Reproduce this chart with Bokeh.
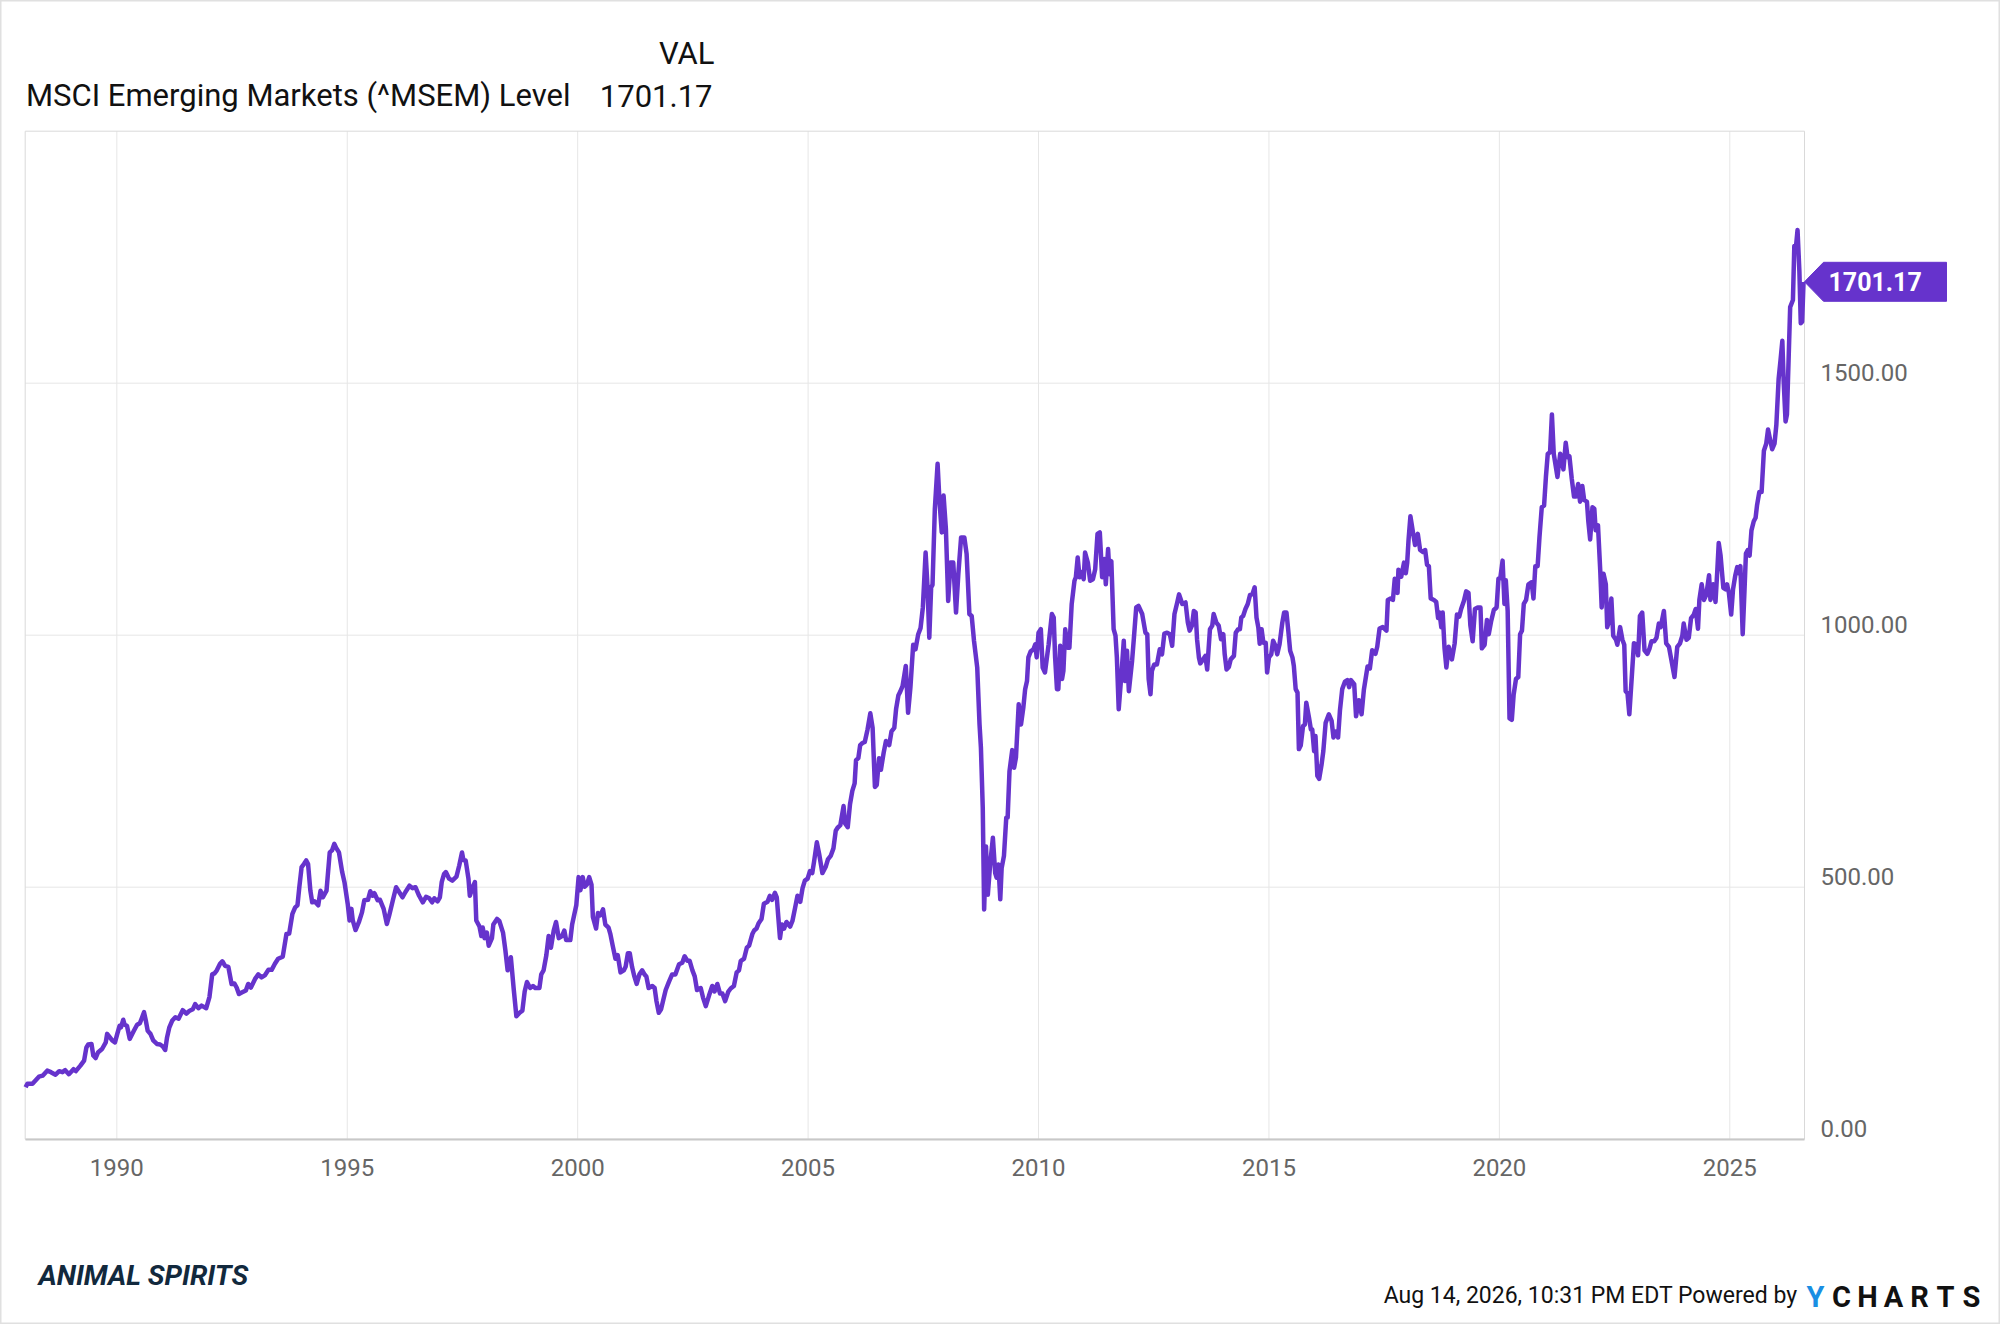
from bokeh.plotting import figure
from bokeh.models import (Range1d, FixedTicker, NumeralTickFormatter, LinearAxis, Label)
from bokeh.embed import file_html
from bokeh.resources import INLINE

# ---------------- data (decimal year, index level) ----------------
YEARS_A = [1988.02,1988.06,1988.17,1988.24,1988.31,1988.39,1988.49,1988.57,1988.67,1988.75,
           1988.82,1988.88,1988.96,1989.06,1989.11,1989.21,1989.29,1989.34,1989.38,1989.45,
           1989.49,1989.54,1989.59,1989.68,1989.76,1989.79,1989.85,1989.90,1989.96,1990.01,
           1990.06,1990.09,1990.14,1990.17,1990.22,1990.28,1990.37,1990.44,1990.50,1990.55,
           1990.59,1990.63,1990.67,1990.73,1990.79,1990.87,1990.94,1991.00,1991.05,1991.09,
           1991.14,1991.20,1991.27,1991.34,1991.43,1991.51,1991.58,1991.65,1991.70,1991.77,
           1991.84,1991.94,1992.01,1992.07,1992.12,1992.17,1992.24,1992.29,1992.35,1992.42,
           1992.49,1992.55,1992.60,1992.65,1992.71,1992.80,1992.85,1992.91,1993.00,1993.07,
           1993.14,1993.21,1993.29,1993.36,1993.43,1993.50,1993.60,1993.68,1993.74,1993.81,
           1993.87,1993.92,1993.96,1994.01,1994.06,1994.11,1994.15,1994.20,1994.24,1994.29,
           1994.37,1994.42,1994.47,1994.55,1994.62,1994.67,1994.72,1994.76,1994.82,1994.89,
           1994.94,1995.01,1995.05,1995.09,1995.12,1995.18,1995.25,1995.32,1995.37,1995.45,
           1995.50,1995.55,1995.59,1995.66,1995.71,1995.79,1995.86,1995.91,1995.99,1996.06,
           1996.13,1996.20,1996.26,1996.35,1996.42,1996.48,1996.56,1996.64,1996.71,1996.78,
           1996.84,1996.89,1996.96,1997.01,1997.05,1997.10,1997.14,1997.21,1997.28,1997.37,
           1997.43,1997.49,1997.52,1997.57,1997.63,1997.66,1997.72,1997.77,1997.80]
VALUES_A = [103,110,110,117,124,126,136,133,128,135,
            133,137,129,139,135,146,156,182,188,189,
            166,161,172,179,192,209,202,196,192,209,
            225,222,237,227,225,199,215,227,230,242,
            252,235,215,209,196,189,188,184,177,202,
            222,235,242,239,256,249,255,258,268,260,
            265,260,282,327,329,335,348,353,344,342,
            308,309,301,288,291,295,308,301,318,327,
            321,325,336,336,348,358,362,407,408,447,
            460,464,500,540,546,553,546,493,470,472,
            464,493,480,493,569,573,586,578,569,530,
            510,467,434,457,434,415,430,450,474,475,
            492,483,488,474,475,457,427,444,474,500,
            490,480,490,503,498,500,483,470,481,478,
            470,478,472,480,510,526,530,517,513,521,
            543,569,554,553,517,483,500,510,434]

YEARS_B = [1997.87,1997.91,1997.94,1997.98,1998.03,1998.07,1998.14,1998.17,1998.25,1998.30,
           1998.38,1998.43,1998.48,1998.55,1998.61,1998.67,1998.74,1998.80,1998.85,1998.90,
           1998.97,1999.03,1999.08,1999.17,1999.21,1999.26,1999.32,1999.37,1999.42,1999.48,
           1999.53,1999.59,1999.66,1999.71,1999.75,1999.84,1999.88,1999.97,2000.02,2000.06,
           2000.11,2000.15,2000.20,2000.25,2000.30,2000.33,2000.40,2000.44,2000.49,2000.55,
           2000.60,2000.67,2000.71,2000.76,2000.82,2000.87,2000.93,2001.00,2001.04,2001.09,
           2001.13,2001.18,2001.23,2001.28,2001.34,2001.40,2001.45,2001.49,2001.54,2001.62,
           2001.67,2001.71,2001.76,2001.81,2001.86,2001.91,2001.98,2002.05,2002.12,2002.20,
           2002.27,2002.32,2002.38,2002.43,2002.49,2002.54,2002.59,2002.67,2002.72,2002.78,
           2002.85,2002.92,2002.97,2003.03,2003.09,2003.14,2003.20,2003.27,2003.32,2003.39,
           2003.45,2003.50,2003.54,2003.61,2003.67,2003.72,2003.79,2003.83,2003.88,2003.93,
           2003.99,2004.04,2004.12,2004.17,2004.22,2004.28,2004.32,2004.37,2004.39,2004.43,
           2004.48,2004.53,2004.61,2004.66,2004.72,2004.77,2004.83,2004.88,2004.93,2004.99,
           2005.04,2005.09,2005.13,2005.19,2005.24,2005.31,2005.38,2005.43,2005.49,2005.55,
           2005.60,2005.64,2005.70,2005.77,2005.80,2005.86,2005.91,2005.96,2006.01,2006.04,
           2006.09,2006.13,2006.18,2006.23,2006.29,2006.35,2006.40,2006.45,2006.49,2006.54,
           2006.58,2006.64,2006.69,2006.76,2006.81,2006.87,2006.91,2006.96,2007.00]
VALUES_B = [422,403,420,399,410,384,399,426,437,433,
            410,376,335,361,300,244,251,255,293,312,
            300,304,300,300,327,335,365,403,380,414,
            431,399,403,414,395,395,426,464,520,494,
            520,501,505,520,505,441,418,449,444,456,
            426,420,407,384,358,365,331,335,342,369,
            369,342,323,308,327,335,327,323,300,304,
            300,274,251,258,277,296,312,327,327,347,
            350,363,354,354,335,323,296,300,281,264,
            285,304,293,308,289,289,274,293,299,304,
            331,335,354,358,380,384,407,414,418,429,
            437,467,471,483,475,489,480,422,399,426,
            418,431,422,433,460,483,471,498,513,517,
            532,528,551,589,566,528,540,555,562,577,
            612,618,623,661,627,619,665,691,706,752,
            756,782,786,788,813,845,816,699,703,756,
            733,767,790,782,809,816,854,881,888]

YEARS_C = [2007.05,2007.12,2007.17,2007.22,2007.28,2007.33,2007.39,2007.44,2007.49,2007.55,
           2007.59,2007.63,2007.67,2007.70,2007.75,2007.81,2007.85,2007.90,2007.94,2007.99,
           2008.04,2008.09,2008.15,2008.21,2008.26,2008.32,2008.39,2008.44,2008.50,2008.55,
           2008.60,2008.67,2008.72,2008.75,2008.79,2008.82,2008.86,2008.90,2008.95,2009.01,
           2009.06,2009.09,2009.13,2009.17,2009.20,2009.25,2009.30,2009.33,2009.37,2009.43,
           2009.47,2009.51,2009.57,2009.62,2009.67,2009.71,2009.75,2009.78,2009.83,2009.89,
           2009.93,2009.96,2010.00,2010.05,2010.09,2010.14,2010.22,2010.29,2010.33,2010.36,
           2010.40,2010.43,2010.47,2010.51,2010.54,2010.58,2010.63,2010.67,2010.72,2010.78,
           2010.81,2010.85,2010.89,2010.94,2010.98,2011.01,2011.07,2011.12,2011.18,2011.23,
           2011.28,2011.33,2011.38,2011.43,2011.46,2011.51,2011.54,2011.58,2011.63,2011.67,
           2011.70,2011.74,2011.81,2011.85,2011.88,2011.92,2011.96,2012.03,2012.07,2012.12,
           2012.17,2012.25,2012.32,2012.36,2012.39,2012.43,2012.46,2012.51,2012.57,2012.63,
           2012.68,2012.73,2012.79,2012.85,2012.90,2012.95,2013.01,2013.05,2013.12,2013.19,
           2013.24,2013.28,2013.33,2013.37,2013.41,2013.44,2013.48,2013.51,2013.57,2013.62,
           2013.66,2013.72,2013.77,2013.80,2013.86,2013.91,2013.96,2014.01,2014.04,2014.08,
           2014.13,2014.17,2014.24,2014.28,2014.33,2014.37,2014.40,2014.44,2014.49,2014.54,
           2014.59,2014.64,2014.69,2014.73,2014.77,2014.80,2014.84,2014.88,2014.93,2014.96,
           2015.00,2015.05,2015.09,2015.14,2015.18,2015.23,2015.29,2015.33,2015.38,2015.42,
           2015.46,2015.51,2015.54,2015.58,2015.62,2015.65,2015.69,2015.74,2015.78,2015.81,
           2015.87,2015.91,2015.94,2015.98,2016.01,2016.05,2016.09,2016.14,2016.18,2016.23,
           2016.30,2016.36,2016.40,2016.45,2016.50,2016.54,2016.59,2016.65,2016.70,2016.74,
           2016.78]
VALUES_C = [899,939,846,896,981,972,1002,1014,1055,1164,
            1098,995,1095,1100,1250,1340,1267,1204,1277,1211,
            1068,1144,1144,1045,1121,1194,1194,1161,1042,1038,
            989,936,823,777,658,456,581,485,545,598,
            528,519,545,476,538,562,638,638,730,772,
            737,757,863,823,856,893,909,956,968,972,
            982,956,1005,1012,936,926,982,1042,1035,956,
            893,893,979,913,929,1012,975,975,1062,1108,
            1115,1154,1115,1125,1111,1164,1144,1108,1111,1131,
            1201,1204,1115,1151,1101,1171,1121,1147,1012,999,
            956,853,936,989,909,969,889,949,995,1055,
            1058,1042,1005,1002,913,883,929,942,942,972,
            962,1003,1005,1002,979,1042,1065,1081,1062,1065,
            1025,1009,1019,1048,1045,992,956,944,952,959,
            932,1012,1019,1042,1025,1019,992,1002,962,932,
            937,952,959,1005,1012,1012,1035,1038,1052,1062,
            1080,1081,1095,1035,1015,983,1012,985,985,926,
            956,962,989,979,962,982,1025,1045,1045,1009,
            969,956,939,893,886,774,781,820,823,866,
            836,813,813,770,800,721,715,742,770,826,
            843,830,797,809,797,850,893,908,911,897,
            911]

YEARS_D = [2016.85,2016.89,2016.95,2017.01,2017.06,2017.14,2017.19,2017.24,2017.31,2017.35,
           2017.40,2017.47,2017.55,2017.58,2017.64,2017.69,2017.73,2017.79,2017.81,2017.87,
           2017.93,2017.97,2018.00,2018.03,2018.07,2018.12,2018.17,2018.23,2018.28,2018.34,
           2018.39,2018.43,2018.47,2018.51,2018.58,2018.63,2018.67,2018.70,2018.74,2018.77,
           2018.81,2018.85,2018.90,2018.97,2019.03,2019.08,2019.13,2019.17,2019.23,2019.28,
           2019.33,2019.37,2019.42,2019.47,2019.53,2019.59,2019.62,2019.68,2019.73,2019.77,
           2019.82,2019.88,2019.94,2019.98,2020.02,2020.07,2020.11,2020.14,2020.18,2020.22,
           2020.27,2020.31,2020.36,2020.41,2020.45,2020.49,2020.53,2020.58,2020.63,2020.70,
           2020.74,2020.78,2020.83,2020.87,2020.92,2020.97,2021.01,2021.05,2021.10,2021.14,
           2021.18,2021.21,2021.26,2021.32,2021.36,2021.39,2021.44,2021.48,2021.52,2021.57,
           2021.62,2021.66,2021.71,2021.75,2021.80,2021.84,2021.90,2021.93,2021.97,2022.02,
           2022.06,2022.09,2022.14,2022.19,2022.22,2022.26,2022.31,2022.34,2022.38,2022.43,
           2022.47,2022.53,2022.56,2022.62,2022.67,2022.71,2022.74,2022.78,2022.82,2022.86,
           2022.92,2022.98,2023.01,2023.05,2023.10,2023.15,2023.21,2023.26,2023.30,2023.36,
           2023.41,2023.46,2023.50,2023.57,2023.62,2023.68,2023.73,2023.80,2023.86,2023.92,
           2023.97,2024.00,2024.06,2024.11,2024.16,2024.22,2024.26,2024.31,2024.34,2024.39,
           2024.44,2024.49,2024.55,2024.58,2024.64,2024.69,2024.73,2024.76,2024.80,2024.86,
           2024.91,2024.94,2024.98,2025.03,2025.07,2025.12,2025.16,2025.19,2025.23,2025.28,
           2025.32,2025.35,2025.39,2025.43,2025.47,2025.52,2025.56,2025.59,2025.64,2025.69,
           2025.74,2025.79,2025.83,2025.87,2025.92,2025.97,2026.01,2026.06,2026.10,2026.14,
           2026.17,2026.21,2026.24,2026.28,2026.31,2026.37,2026.40,2026.44,2026.47,2026.51,
           2026.54,2026.57,2026.60]
VALUES_D = [903,839,871,843,892,938,934,970,963,977,
            1013,1016,1009,1070,1073,1070,1112,1084,1130,1116,
            1144,1123,1144,1190,1236,1207,1179,1201,1169,1165,
            1169,1140,1137,1073,1070,1066,1034,1045,1016,1045,
            974,936,977,952,984,1041,1037,1052,1068,1087,
            1084,1020,988,1052,1055,1055,974,981,1030,1002,
            1027,1050,1055,1112,1113,1148,1062,1109,1048,835,
            832,882,913,917,1002,1009,1062,1070,1101,1105,
            1073,1137,1137,1194,1254,1257,1314,1360,1363,1438,
            1360,1343,1314,1360,1350,1329,1382,1353,1355,1311,
            1275,1275,1300,1265,1296,1268,1265,1226,1190,1254,
            1251,1208,1218,1126,1055,1122,1101,1016,1027,1073,
            999,991,981,1016,991,981,889,885,843,899,
            984,981,960,1038,1045,970,963,974,988,988,
            995,1023,1016,1048,984,977,952,917,977,984,
            999,1023,991,995,1034,1041,1052,1013,1070,1101,
            1070,1080,1119,1070,1101,1066,1130,1183,1158,1094,
            1091,1101,1084,1041,1091,1119,1135,1123,1137,1002,
            1091,1162,1169,1158,1208,1226,1233,1257,1284,1284,
            1366,1380,1408,1390,1369,1380,1417,1509,1545,1584,
            1502,1424,1438,1559,1651,1665,1772,1775,1804,1722,
            1619,1622,1701.17]

YEARS = YEARS_A + YEARS_B + YEARS_C + YEARS_D
VALUES = VALUES_A + VALUES_B + VALUES_C + VALUES_D
n = min(len(YEARS), len(VALUES))
YEARS, VALUES = YEARS[:n], VALUES[:n]

X_TICKS = [1990, 1995, 2000, 2005, 2010, 2015, 2020, 2025]
Y_TICKS = [0, 500, 1000, 1500]
Y_GRID = [500, 1000, 1500]
SERIES_NAME = "MSCI Emerging Markets (^MSEM) Level"
COLUMN_HEAD = "VAL"
LAST_VALUE = 1701.17
LAST_TEXT = "1701.17"
BRAND = "ANIMAL SPIRITS"
STAMP = "Aug 14, 2026, 10:31 PM EDT Powered by"
LOGO_LETTERS = ["Y", "C", "H", "A", "R", "T", "S"]

# ---------------- layout (page pixels) ----------------
W, H = 2000, 1324
PL, PR, PT, PB = 24.7, 1804.0, 130.7, 1138.7       # plot-area box on the page
YEAR_L, YEAR_R = 1988.012, 2026.621                  # years at plot left / right
VAL_B, VAL_T = 0.0, 2000.0                           # values at plot bottom / top

KX = (YEAR_R - YEAR_L) / (PR - PL)
KY = (VAL_T - VAL_B) / (PB - PT)
XS, XE = YEAR_L - PL * KX, YEAR_L + (W - PL) * KX
YB, YT = VAL_B - (H - PB) * KY, VAL_B + PB * KY


def dx(px):
    return XS + px * KX


def dy(py):
    return YT - py * KY


PURPLE = "#6633cc"
FONT = "Roboto"
GRID = "#e6e6e6"

p = figure(width=W, height=H, x_range=Range1d(XS, XE), y_range=Range1d(YB, YT),
           output_backend="svg", toolbar_location=None,
           x_axis_location=None, y_axis_location=None,
           min_border=0, min_border_left=0, min_border_right=0,
           min_border_top=0, min_border_bottom=0)
p.background_fill_color = "white"
p.border_fill_color = "white"
p.outline_line_color = "#e0e0e0"
p.outline_line_width = 2
p.xgrid.visible = False
p.ygrid.visible = False

# grid lines inside the plot box
p.segment(x0=X_TICKS, y0=[VAL_B] * len(X_TICKS), x1=X_TICKS, y1=[VAL_T] * len(X_TICKS),
          line_color=GRID, line_width=1)
p.segment(x0=[YEAR_L] * len(Y_GRID), y0=Y_GRID, x1=[YEAR_R] * len(Y_GRID), y1=Y_GRID,
          line_color=GRID, line_width=1)
# plot box
p.quad(left=[YEAR_L], right=[YEAR_R], bottom=[VAL_B], top=[VAL_T],
       fill_color=None, line_color="#d9d9d9", line_width=1)

# x axis, drawn along value 0
xax = LinearAxis(ticker=FixedTicker(ticks=X_TICKS), formatter=NumeralTickFormatter(format="0"),
                 fixed_location=VAL_B, bounds=(YEAR_L, YEAR_R))
xax.axis_line_color = "#c8c8c8"
xax.axis_line_width = 2
xax.major_tick_line_color = None
xax.minor_tick_line_color = None
xax.major_label_text_font = FONT
xax.major_label_text_font_size = "24px"
xax.major_label_text_color = "#666666"
xax.major_label_standoff = 14
p.add_layout(xax, "below")

# y axis on the right edge of the plot box; labels sit just above grid lines
shift = 11 * KY
p.extra_y_ranges = {"lab": Range1d(YB - shift, YT - shift)}
yax = LinearAxis(y_range_name="lab", ticker=FixedTicker(ticks=Y_TICKS),
                 formatter=NumeralTickFormatter(format="0.00"), fixed_location=YEAR_R)
yax.axis_line_color = None
yax.major_tick_line_color = None
yax.minor_tick_line_color = None
yax.major_label_text_font = FONT
yax.major_label_text_font_size = "24px"
yax.major_label_text_color = "#666666"
yax.major_label_standoff = 10
p.add_layout(yax, "right")

# series line
p.line(YEARS, VALUES, line_color=PURPLE, line_width=4.5, line_join="round")

# value tag at the right of the plot box
half = 19.5 * KY
tag_l, tag_r = dx(1823), dx(1946)
p.patch(x=[YEAR_R, tag_l, tag_r, tag_r, tag_l],
        y=[LAST_VALUE, LAST_VALUE + half, LAST_VALUE + half, LAST_VALUE - half, LAST_VALUE - half],
        fill_color=PURPLE, line_color=PURPLE, line_width=1)
p.add_layout(Label(x=dx(1828), y=LAST_VALUE, text=LAST_TEXT, text_align="left",
                   text_baseline="middle", text_font=FONT, text_font_size="25px",
                   text_font_style="bold", text_color="white"))

# header
p.add_layout(Label(x=dx(714), y=dy(53), text=COLUMN_HEAD, text_align="right",
                   text_baseline="middle", text_font=FONT, text_font_size="31px",
                   text_color="#111111"))
p.add_layout(Label(x=dx(25.5), y=dy(95), text=SERIES_NAME, text_align="left",
                   text_baseline="middle", text_font=FONT, text_font_size="31px",
                   text_color="#111111"))
p.add_layout(Label(x=dx(712), y=dy(95), text=LAST_TEXT, text_align="right",
                   text_baseline="middle", text_font=FONT, text_font_size="31px",
                   text_color="#111111"))

# footer
p.add_layout(Label(x=dx(38), y=dy(1275), text=BRAND, text_align="left",
                   text_baseline="middle", text_font=FONT, text_font_size="28px",
                   text_font_style="bold italic", text_color="#12293d"))
p.add_layout(Label(x=dx(1797), y=dy(1295), text=STAMP, text_align="right",
                   text_baseline="middle", text_font=FONT, text_font_size="23px",
                   text_color="#111111"))
logo_centers = [1815, 1841, 1867, 1893, 1919, 1945, 1971]
for ch, cx in zip(LOGO_LETTERS, logo_centers):
    p.add_layout(Label(x=dx(cx), y=dy(1296), text=ch, text_align="center",
                       text_baseline="middle", text_font=FONT, text_font_size="29px",
                       text_font_style="bold",
                       text_color="#1a8fe3" if ch == "Y" else "#111111"))

with open("out.html", "w") as f:
    f.write(file_html(p, INLINE))
